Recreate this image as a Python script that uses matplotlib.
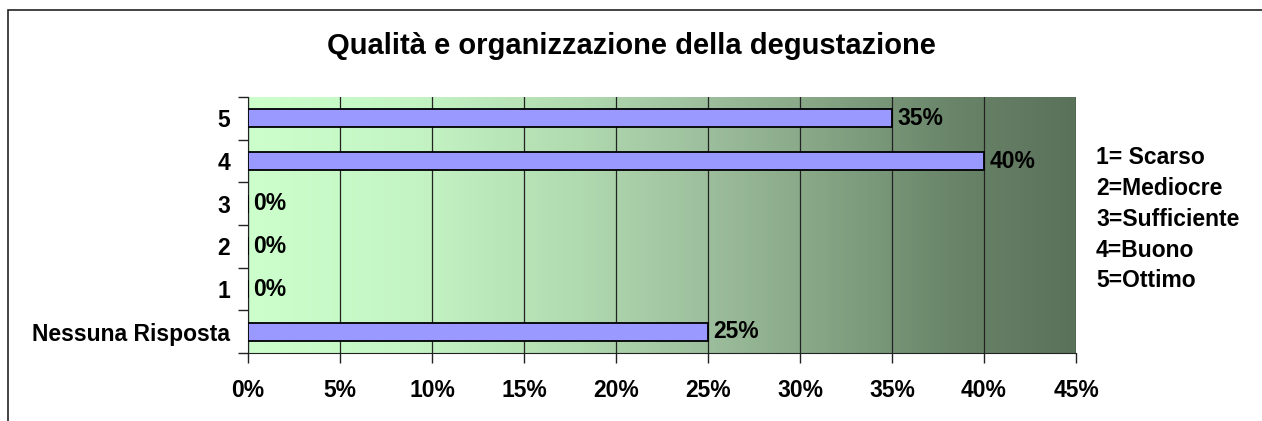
import numpy as np
import matplotlib.pyplot as plt
from matplotlib.colors import LinearSegmentedColormap
from matplotlib.patches import Rectangle

plt.rcParams['font.family'] = ['Liberation Sans', 'DejaVu Sans']
plt.rcParams['font.weight'] = 'bold'

# data
categories = ['Nessuna Risposta', '1', '2', '3', '4', '5']
values = [25, 0, 0, 0, 40, 35]
xticks = [0, 5, 10, 15, 20, 25, 30, 35, 40, 45]
legend_lines = ['1= Scarso', '2=Mediocre', '3=Sufficiente', '4=Buono', '5=Ottimo']

fs = 16.5

fig = plt.figure(figsize=(12.62, 4.21), dpi=100)
# outer chart border
fig.patches.append(Rectangle((8 / 1262, -0.05), 1.1, 1 - 10 / 421 + 0.05,
                             transform=fig.transFigure, fill=False,
                             edgecolor='#222222', linewidth=1.2))

ax = fig.add_axes([248 / 1262, 1 - 353 / 421, (1076 - 248) / 1262, (353 - 97) / 421])

# gradient background
cmap = LinearSegmentedColormap.from_list('g', [
    (0.0, '#ccffcc'), (0.2, '#c4f4c4'), (0.4, '#b0dab0'), (0.55, '#9ebf9e'),
    (0.7, '#84a484'), (0.85, '#6a856a'), (1.0, '#5a715a')])
grad = np.linspace(0, 1, 256).reshape(1, -1)
ax.imshow(grad, cmap=cmap, aspect='auto', extent=[0, 45, -0.5, 5.5], zorder=0)

y = np.arange(len(categories))
ax.barh(y, values, height=0.42, color='#9999ff', edgecolor='black', linewidth=1.3, zorder=3)

for yi, v in zip(y, values):
    ax.text(v + 0.3, yi, f'{v}%', va='center', ha='left', fontsize=fs, fontweight='bold', zorder=4)

ax.set_xlim(0, 45)
ax.set_ylim(-0.5, 5.5)
ax.set_xticks(xticks)
ax.set_xticklabels([f'{t}%' for t in xticks], fontsize=fs, fontweight='bold')
ax.xaxis.grid(True, color='#222222', linewidth=0.9)
for gl in ax.get_xgridlines():
    gl.set_zorder(1)

ax.set_yticks(y)
ax.set_yticklabels(categories, fontsize=fs, fontweight='bold')
ax.set_yticks(np.arange(-0.5, 6, 1), minor=True)
ax.tick_params(axis='y', which='major', length=0, pad=13)
ax.tick_params(axis='y', which='minor', length=7, width=1, color='#222222')
ax.tick_params(axis='x', length=7, width=1, color='#222222', pad=12)

for s in ['top', 'right']:
    ax.spines[s].set_visible(False)
ax.spines['left'].set_color('#222222')
ax.spines['bottom'].set_color('#222222')

fig.text(0.5, 1 - 46 / 421, 'Qualità e organizzazione della degustazione',
         ha='center', va='center', fontsize=21, fontweight='bold')

for i, line in enumerate(legend_lines):
    fig.text(1096 / 1262, 1 - (158 + i * 30.7) / 421, line, ha='left', va='center',
             fontsize=fs, fontweight='bold')

fig.savefig('out.png', dpi=100)
